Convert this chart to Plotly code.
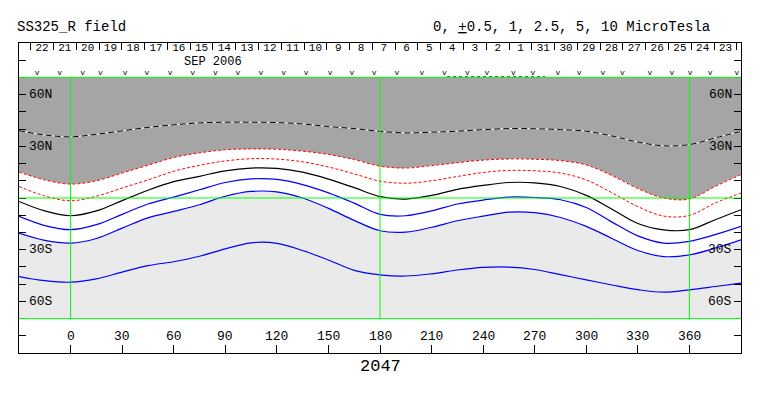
import plotly.graph_objects as go
import pandas as pd

# ---------------- data ----------------
lons = [-30, -15, 0, 15, 30, 45, 60, 75, 90, 105, 120, 135, 150, 165, 180, 195,
        210, 225, 240, 255, 270, 285, 300, 315, 330, 345, 360, 375, 390]

pos_2p5 = [39.1, 36.6, 35.5, 37.0, 39.0, 41.0, 42.5, 43.6, 44.0, 44.0, 43.8, 43.0, 41.5, 40.3,
           38.7, 37.8, 38.2, 38.8, 39.7, 40.3, 40.2, 39.7, 38.8, 36.0, 32.5, 30.3, 31.0, 34.9, 38.7]
pos_1 = [15.1, 10.5, 8.1, 10.0, 14.5, 19.0, 23.5, 26.2, 28.0, 28.5, 28.3, 27.2, 25.3, 22.3,
         18.5, 17.4, 18.8, 20.5, 22.0, 22.7, 22.5, 21.7, 19.2, 13.0, 5.5, 0.0, -0.6, 6.7, 13.6]
pos_0p5 = [6.7, 1.2, -1.6, 1.0, 5.8, 10.5, 15.5, 19.0, 21.5, 22.8, 22.6, 21.0, 18.0, 14.0,
           9.8, 8.6, 10.0, 12.5, 14.8, 16.0, 15.8, 14.5, 10.5, 3.0, -5.0, -10.5, -10.1, -2.9, 2.9]
neutral = [-2.0, -7.5, -10.3, -7.5, -1.5, 4.5, 9.5, 12.6, 15.8, 17.4, 17.2, 15.0, 11.0, 6.0,
           0.8, -0.6, 1.5, 5.0, 7.3, 9.0, 8.8, 6.7, 1.5, -6.5, -14.8, -18.5, -18.4, -12.6, -6.8]
neg_0p5 = [-10.7, -16.0, -18.4, -15.5, -9.5, -3.5, 0.5, 4.8, 9.0, 11.1, 10.8, 7.8, 3.0, -3.0,
           -9.5, -10.3, -7.5, -3.5, -1.2, 0.5, 0.3, -1.0, -5.5, -14.0, -22.0, -26.2, -25.2, -21.3, -16.5]
neg_1 = [-20.4, -24.6, -26.2, -23.5, -17.5, -11.5, -7.8, -3.9, 1.0, 3.8, 3.5, 0.0, -6.0, -13.0,
         -19.0, -19.8, -17.0, -13.2, -10.5, -8.2, -8.5, -11.3, -16.5, -23.5, -30.5, -34.0, -33.0, -29.1, -24.3]
neg_2p5 = [-45.6, -48.0, -48.9, -47.0, -43.0, -39.3, -37.0, -33.8, -29.5, -26.0, -26.3, -30.5, -36.0, -42.0,
           -44.6, -45.3, -44.0, -41.8, -40.3, -40.1, -41.5, -44.5, -47.5, -50.5, -53.2, -54.7, -53.3, -51.4, -49.4]

map_lat_top, map_lat_bottom = 70, -70
lon_ticks = [0, 30, 60, 90, 120, 150, 180, 210, 240, 270, 300, 330, 360]
lat_labels = {60: "60N", 30: "30N", -30: "30S", -60: "60S"}
obs_lons = [-19.5, -6.4, 7.0, 17.3, 31.8, 44.4, 58.0, 71.0, 84.2, 97.4, 110.7, 123.9, 137.1,
            151.0, 163.7, 176.6, 189.8, 204.4, 217.5, 230.9, 242.2, 257.6, 268.9, 283.5,
            295.9, 309.6, 321.0, 337.0, 349.8, 360.4, 372.0, 387.6]
obs_gap = [219, 276]
days = pd.date_range("2006-08-23", "2006-09-22", freq="D")
date_range = ["2006-09-23 12:20", "2006-08-22 19:40"]

FONT = "Liberation Mono, Courier New, monospace"
DARK = "#A5A5A5"
LIGHT = "#EAEAEA"
GREEN = "#00FF00"

fig = go.Figure()
n = len(lons)
fig.add_trace(go.Scatter(x=lons, y=[map_lat_top] * n, mode="lines",
                         line=dict(width=0, color="rgba(0,0,0,0)", shape="spline")))
fig.add_trace(go.Scatter(x=lons, y=pos_1, mode="lines", fill="tonexty", fillcolor=DARK,
                         line=dict(width=0, color="rgba(0,0,0,0)", shape="spline")))
fig.add_trace(go.Scatter(x=lons, y=neg_1, mode="lines", fill="tonexty", fillcolor="white",
                         line=dict(width=0, color="rgba(0,0,0,0)", shape="spline")))
fig.add_trace(go.Scatter(x=lons, y=[map_lat_bottom] * n, mode="lines", fill="tonexty", fillcolor=LIGHT,
                         line=dict(width=0, color="rgba(0,0,0,0)", shape="spline")))

# contour lines
fig.add_trace(go.Scatter(x=lons, y=pos_2p5, mode="lines", line=dict(width=1, color="white", shape="spline")))
fig.add_trace(go.Scatter(x=lons, y=pos_2p5, mode="lines",
                         line=dict(width=1, color="black", dash="6px,3px", shape="spline")))
for arr in (pos_1, pos_0p5):
    fig.add_trace(go.Scatter(x=lons, y=arr, mode="lines",
                             line=dict(width=1, color="red", dash="3px,2px", shape="spline")))
fig.add_trace(go.Scatter(x=lons, y=neutral, mode="lines", line=dict(width=1.2, color="black", shape="spline")))
for arr in (neg_0p5, neg_1, neg_2p5):
    fig.add_trace(go.Scatter(x=lons, y=arr, mode="lines", line=dict(width=1.2, color="blue", shape="spline")))

# observation markers
fig.add_trace(go.Scatter(x=obs_lons, y=[72.5] * len(obs_lons), mode="text", text=["v"] * len(obs_lons),
                         textfont=dict(family=FONT, size=8, color="black"), cliponaxis=False))
fig.add_trace(go.Scatter(x=obs_gap, y=[70.3, 70.3], mode="lines",
                         line=dict(width=1, color="black", dash="dot")))

# day labels on the date axis
fig.add_trace(go.Scatter(x=[d + pd.Timedelta(hours=12) for d in days], y=[86.9] * len(days),
                         mode="text", text=[str(d.day) for d in days], xaxis="x2",
                         textfont=dict(family=FONT, size=11, color="black")))

# green reference lines
for lo in (0, 180, 360):
    fig.add_shape(type="line", x0=lo, x1=lo, y0=map_lat_bottom, y1=map_lat_top,
                  line=dict(color=GREEN, width=1))
for la in (map_lat_top, 0, map_lat_bottom):
    fig.add_shape(type="line", x0=lons[0], x1=lons[-1], y0=la, y1=la,
                  line=dict(color=GREEN, width=1))

ann = []
for t in lon_ticks:
    ann.append(dict(x=t, y=-80.3, xref="x", yref="y", text=str(t), showarrow=False,
                    font=dict(family=FONT, size=13, color="black")))
for la, txt in lat_labels.items():
    ann.append(dict(x=-25.6, y=la, xref="x", yref="y", text=txt, showarrow=False, xanchor="left",
                    font=dict(family=FONT, size=13, color="black")))
    ann.append(dict(x=386.0, y=la, xref="x", yref="y", text=txt, showarrow=False, xanchor="right",
                    font=dict(family=FONT, size=13, color="black")))
ann.append(dict(x=83, y=78.9, xref="x", yref="y", text="SEP 2006", showarrow=False,
                font=dict(family=FONT, size=12, color="black")))
ann.append(dict(x=180, y=-0.043, xref="x", yref="paper", text="2047", showarrow=False,
                yanchor="middle", font=dict(family=FONT, size=17, color="black")))
ann.append(dict(x=-0.006, y=1.051, xref="paper", yref="paper", text="SS325_R field", showarrow=False,
                xanchor="left", yanchor="middle", font=dict(family=FONT, size=14, color="black")))
ann.append(dict(x=0.571, y=1.051, xref="paper", yref="paper",
                text="0, <u>+</u>0.5, 1, 2.5, 5, 10 MicroTesla", showarrow=False,
                xanchor="left", yanchor="middle", font=dict(family=FONT, size=14, color="black")))
ann.append(dict(x=-31.5, y=7.3, xref="x", yref="y", text=">", showarrow=False,
                font=dict(family=FONT, size=10, color=GREEN)))

# the page body adds an 8px margin, so the figure is 8px smaller and margins shifted
fig.update_layout(
    width=755, height=388,
    margin=dict(l=11, r=22, t=35, b=43),
    paper_bgcolor="white", plot_bgcolor="white",
    showlegend=False, hovermode=False,
    annotations=ann,
    xaxis=dict(range=[-30, 390], showgrid=False, zeroline=False, showline=True, mirror=True,
               linecolor="black", linewidth=1, ticks="inside", ticklen=8, tickcolor="black",
               tickvals=lon_ticks, showticklabels=False),
    yaxis=dict(range=[-90, 90], showgrid=False, zeroline=False, showline=True, mirror="ticks",
               linecolor="black", linewidth=1, ticks="inside", ticklen=7, tickcolor="black",
               tick0=0, dtick=10, showticklabels=False),
    xaxis2=dict(type="date", overlaying="x", side="top", anchor="y", range=date_range,
                showgrid=False, zeroline=False, showline=False, ticks="inside", ticklen=7,
                tickcolor="black", tick0="2006-08-01", dtick=86400000, showticklabels=False),
)

fig.write_html("out.html")
